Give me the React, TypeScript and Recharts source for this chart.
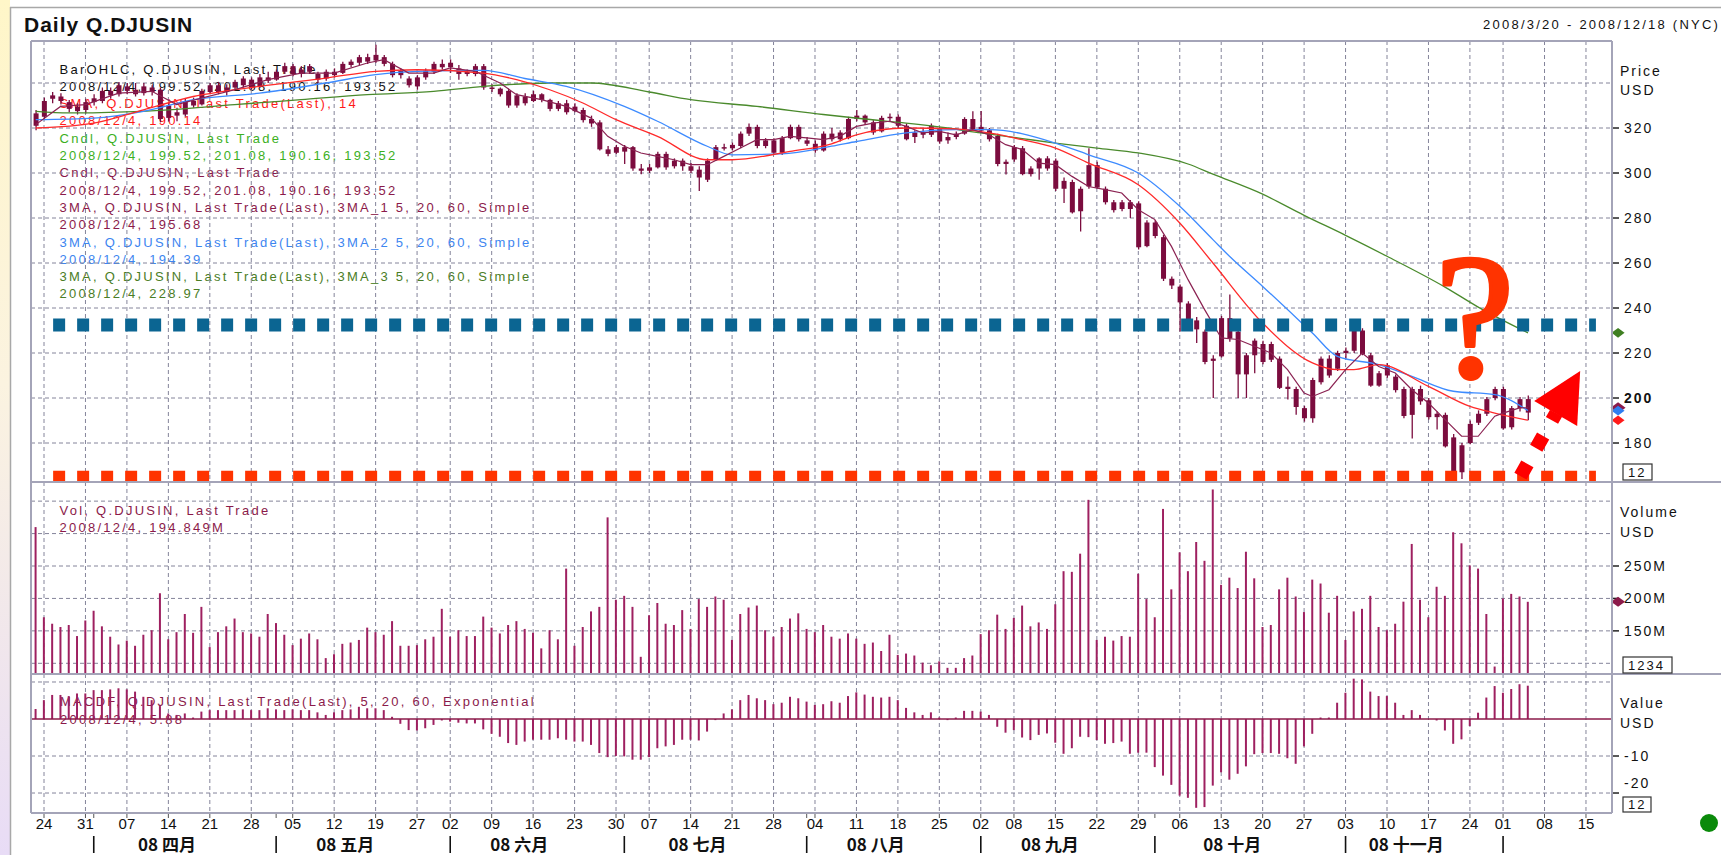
import React from 'react';
import {
  ComposedChart,
  Bar,
  Line,
  XAxis,
  YAxis,
  CartesianGrid,
  ReferenceLine,
  ReferenceDot,
} from 'recharts';

// trading days on the axis, 2008/3/20 - 2008/12/18
const tradingDays: [string, number[]][] = [
  ['03', [20, 24, 25, 26, 27, 28, 31]],
  ['04', [1, 2, 3, 4, 7, 8, 9, 10, 11, 14, 15, 16, 17, 18, 21, 22, 23, 24, 25, 28, 29, 30]],
  ['05', [1, 2, 5, 6, 7, 8, 9, 12, 13, 14, 15, 16, 19, 20, 21, 22, 23, 27, 28, 29, 30]],
  ['06', [2, 3, 4, 5, 6, 9, 10, 11, 12, 13, 16, 17, 18, 19, 20, 23, 24, 25, 26, 27, 30]],
  ['07', [1, 2, 3, 7, 8, 9, 10, 11, 14, 15, 16, 17, 18, 21, 22, 23, 24, 25, 28, 29, 30, 31]],
  ['08', [1, 4, 5, 6, 7, 8, 11, 12, 13, 14, 15, 18, 19, 20, 21, 22, 25, 26, 27, 28, 29]],
  ['09', [2, 3, 4, 5, 8, 9, 10, 11, 12, 15, 16, 17, 18, 19, 22, 23, 24, 25, 26, 29, 30]],
  ['10', [1, 2, 3, 6, 7, 8, 9, 10, 13, 14, 15, 16, 17, 20, 21, 22, 23, 24, 27, 28, 29, 30, 31]],
  ['11', [3, 4, 5, 6, 7, 10, 11, 12, 13, 14, 17, 18, 19, 20, 21, 24, 25, 26, 28]],
  ['12', [1, 2, 3, 4, 5, 8, 9, 10, 11, 12, 15, 16, 17, 18]],
];

const weekTicks = [
  '03/24', '03/31', '04/07', '04/14', '04/21', '04/28', '05/05', '05/12', '05/19', '05/27',
  '06/02', '06/09', '06/16', '06/23', '06/30', '07/07', '07/14', '07/21', '07/28', '08/04',
  '08/11', '08/18', '08/25', '09/02', '09/08', '09/15', '09/22', '09/29', '10/06', '10/13',
  '10/20', '10/27', '11/03', '11/10', '11/17', '11/24', '12/01', '12/08', '12/15',
];
const sepMonths = ['04', '05', '06', '07', '08', '09', '10', '11', '12'];
const monthLabels = ['08 四月', '08 五月', '08 六月', '08 七月', '08 八月', '08 九月', '08 十月', '08 十一月'];

// open, high, low, close
const ohlc = [
  [321, 328, 319, 326.5], [325, 333.5, 323.5, 332], [333, 336, 331, 334.5], [334, 335.5, 330.5, 332], [331.5, 332.5, 327, 328.5],
  [329.5, 331, 326, 327.5], [328, 333, 326.5, 331.5], [331.5, 335, 330, 333.2], [332, 338, 331, 336.5], [336.5, 338, 333, 334.5],
  [335, 340.5, 334, 339], [338.5, 340, 335, 336.5], [337, 340, 334, 335], [335.5, 340, 334.5, 338.5], [338, 339, 334.5, 336],
  [337, 338, 322.5, 324], [324.5, 331, 323, 330], [327, 329, 323, 325.5], [326, 333, 325, 332], [332, 333.5, 329, 330],
  [330.5, 337.5, 330, 336.5], [336, 340, 335, 339], [339, 340.5, 335, 336], [336, 339.5, 334.5, 338], [338, 341.5, 337, 340.5],
  [339, 343, 338, 342], [341.5, 342.5, 337, 338], [338.5, 344, 338, 342.5], [342.5, 345, 340, 341], [341.5, 346, 341, 345],
  [345, 349, 344, 347.5], [347.5, 348.5, 343, 344], [344, 347.5, 342.5, 346], [345, 348.5, 344, 347.5], [344, 345, 340, 341.5],
  [342, 346, 341, 345], [345, 346.5, 342.5, 343.5], [344.5, 349.5, 344, 348.5], [348, 350.5, 347, 349.5], [349, 352.5, 348, 351.5],
  [351.5, 353, 348.5, 349.5], [350, 357, 349, 352.5], [351.5, 352.5, 347.5, 348.5], [348.5, 349.5, 342.5, 343.5], [343.5, 346.5, 342, 345.5],
  [342, 343, 338, 339], [338.5, 343.5, 337, 342.5], [342.5, 346.5, 341.5, 345.5], [345, 349.5, 344, 348.5], [348.5, 350.5, 346, 347],
  [347, 350.5, 344.5, 349], [346.5, 348, 341.5, 344], [344, 346, 343, 345], [344, 348.5, 343, 347.5], [347.5, 348.5, 337, 338],
  [338, 339.5, 336, 337.5], [337.5, 338, 334, 335], [336.5, 337.5, 329, 330], [330, 335.5, 329, 334.5], [334, 335.5, 330, 331],
  [332, 336.5, 331.5, 335], [335, 335.5, 331.5, 332.5], [332.5, 333, 327.5, 328.5], [328.5, 332, 327.5, 331], [331, 332.5, 326, 327],
  [327.5, 331, 327, 329.5], [328, 329, 322.5, 323.5], [324, 325.5, 320.5, 322], [322.5, 323.5, 310, 310.5], [310.5, 312, 307.5, 308.5],
  [309, 312.5, 308.5, 311.5], [311.5, 312.5, 304, 309.5], [311.5, 312, 301, 302], [302, 304, 299.5, 301], [301, 304, 300, 302.5],
  [302.5, 309.5, 302, 308.5], [308.5, 309.5, 301.5, 302.5], [303, 306.5, 302, 305.5], [305.5, 306.5, 301, 303], [303, 304.5, 300, 301],
  [301.5, 303, 292, 298], [297, 306.5, 296, 305.5], [306, 312.5, 305.5, 311.5], [311.5, 313, 310, 311], [311, 313.5, 310, 312.5],
  [312, 318.5, 311, 317.5], [317.5, 322, 316.5, 320.5], [320.5, 321.5, 311, 312], [312, 315.5, 311, 314.5], [314.5, 315.5, 308.5, 309],
  [309, 316.5, 308, 315.5], [315.5, 321.5, 315, 320.5], [320.5, 321.5, 314, 315], [314.5, 316, 312, 313], [313, 314.5, 309, 310],
  [310, 318.5, 309.5, 317.5], [317.5, 320, 314, 315], [315, 319, 314, 318], [315.5, 325, 315, 324], [324, 328, 323, 325.5],
  [325.5, 326, 321.5, 322.5], [322.5, 323.5, 317, 318], [318.5, 325.5, 318, 324.5], [324.5, 326.5, 323, 325], [325, 326, 320, 321],
  [321, 322, 314.5, 315], [316, 319, 313.3, 318], [318, 320, 315.5, 317], [317, 322, 316, 321], [320, 320.5, 313, 314],
  [314.5, 318, 313, 316], [316, 318.5, 315, 317.5], [317.5, 324.8, 317, 324], [324, 327.4, 319, 319.5], [320.5, 327.6, 318, 318.8],
  [319, 320, 314, 315], [316.5, 317.5, 303, 304], [304, 306, 299.3, 305], [306, 312.5, 305, 311.5], [311, 312, 299, 299.5],
  [299.5, 303, 298.5, 302], [302, 307, 297, 306.5], [306.5, 307.5, 301, 302], [305.5, 306.5, 292, 293], [293, 298, 286.7, 296.5],
  [296, 297, 282, 282.5], [283, 294, 274, 293], [294, 311, 293, 303.5], [303.5, 305, 293, 293.5], [293, 294, 286, 287],
  [287, 288, 282.5, 283.5], [284, 288, 283, 287], [287, 288, 280, 284], [286.5, 287.5, 266, 267], [267.5, 279, 267, 278],
  [278, 279, 271, 272], [271.5, 272.5, 252, 253], [253, 254, 248.5, 250], [249.5, 250.5, 229.6, 242.5], [242, 243, 234, 235],
  [234.5, 236, 224.4, 230.5], [229.5, 230.5, 215, 216], [216.5, 219, 200, 217.5], [218.5, 236.5, 218, 235.5], [235.5, 246, 225, 226.5],
  [229.5, 231, 200, 210.5], [210.5, 220, 200, 219], [219, 226.5, 211, 225.5], [224, 225.5, 215, 216], [217, 225, 216, 224],
  [217.5, 218.5, 204, 204.5], [205, 209.6, 199.3, 204], [204, 205, 192.6, 196], [195.5, 196.5, 189.5, 191], [191, 209, 189, 208],
  [207, 218.5, 206, 217.5], [217.5, 219, 209, 210], [213, 221, 212, 220], [220, 222.5, 217.5, 221], [221, 231, 220, 230],
  [230, 231, 219, 219.5], [219, 220, 205, 205.5], [205.5, 212, 205, 211], [210, 215.5, 209, 214.5], [209.5, 210.5, 202.5, 203.5],
  [204, 205, 191, 192], [192.5, 205, 182, 204], [204, 205.5, 197, 198.5], [199, 200, 190.5, 191.5], [191.5, 194, 186, 193],
  [192.5, 193.5, 178, 178.5], [182.5, 184, 166.5, 167], [167, 180, 164, 179], [180, 190, 179.5, 188.5], [189, 194.5, 188, 193],
  [193, 200.5, 192, 199.5], [200, 205, 199, 204], [204, 205, 186, 186.5], [187, 196.5, 186, 195.5], [195.5, 200.5, 194, 199.5],
  [199.52, 201.08, 190.16, 193.52],
];

// volume, millions
const volume = [
  310, 171, 161, 156, 159, 142, 166, 181, 157, 141,
  129, 135, 127, 144, 151, 208, 137, 148, 176, 147,
  187, 125, 148, 157, 169, 148, 146, 141, 176, 162,
  144, 128, 138, 146, 137, 108, 114, 130, 132, 136,
  155, 148, 144, 165, 127, 127, 128, 137, 141, 184,
  141, 151, 142, 142, 172, 155, 146, 159, 165, 153,
  147, 123, 151, 137, 246, 127, 156, 180, 187, 325,
  198, 204, 187, 110, 174, 193, 161, 159, 182, 153,
  199, 187, 203, 198, 136, 176, 186, 189, 151, 141,
  156, 169, 177, 153, 148, 159, 141, 138, 146, 138,
  130, 132, 119, 144, 113, 115, 112, 101, 97, 103,
  93, 93, 108, 112, 145, 151, 175, 153, 170, 189,
  157, 163, 153, 191, 242, 241, 269, 352, 136, 141,
  135, 142, 141, 238, 199, 171, 338, 214, 271, 242,
  287, 258, 368, 221, 232, 216, 272, 231, 156, 159,
  214, 232, 203, 179, 229, 223, 178, 204, 136, 180,
  184, 204, 156, 151, 161, 195, 284, 198, 171, 218,
  204, 302, 285, 251, 246, 176, 95, 200, 207, 203,
  194.8,
];

const macd = [
  2.7, 5.1, 6.5, 6.5, 6.2, 6.9, 6.9, 7.8, 7.8, 8,
  8.3, 8, 7.4, 6, 5.1, 3.5, 1.5, 1.1, 1.5, 0.4,
  2, 2.4, 2.4, 2.4, 2.4, 2.6, 2.4, 2.4, 2.9, 2.6,
  2.4, 2.6, 2.4, 2.4, 1.8, 1.1, 1.8, 2.4, 2.6, 3.3,
  2.9, 2.9, 2.4, 0.6, -1.3, -3, -3.1, -2.5, -1.6, -0.4,
  -0.7, -1, -1.2, -1.2, -2.8, -4, -4.8, -6.5, -7, -6.1,
  -5.6, -5.6, -5.6, -5.2, -5.6, -6.1, -6.1, -7, -9.2, -10.3,
  -10, -10.1, -11, -11, -10.3, -7.9, -7.4, -7, -5.6, -5.6,
  -5.8, -3.4, -0.3, 1.5, 2.6, 5.1, 6.5, 5.6, 5.1, 4,
  4.4, 6, 5.6, 4.7, 3.8, 4, 4.8, 4.4, 6.2, 7.2,
  6.6, 6, 5.8, 6, 5.1, 3, 1.8, 1.1, 1.8, 0.4,
  -0.3, 0.4, 2.2, 2.2, 2, 1.1, -2.1, -3.7, -3, -5,
  -5.7, -4.3, -3.9, -6.4, -9.4, -7.9, -4.8, -4.9, -5.7, -6.7,
  -6.5, -6.1, -9.4, -9.1, -9.1, -13, -15.3, -17.8, -20.7, -21.3,
  -24, -23.8, -18, -14.4, -16.4, -14.8, -12.8, -9.5, -9.2, -9.2,
  -9.4, -10.6, -12.1, -7.4, -4, 0.4, 0.4, 4.4, 7.1, 10.9,
  10.7, 7.4, 6.2, 6.2, 4.4, 1.1, 2.4, 1.1, 0, -0.4,
  -3.1, -6.7, -5.5, -1.9, 1.7, 5.8, 8.9, 7.1, 8.1, 9.4,
  9,
];

// moving averages, [day index, value]
const ma5 = [
  [0, 321.5], [3, 329.6], [6, 330.4], [10, 335.5], [14, 336.3], [17, 330.4], [20, 333.3], [24, 337],
  [28, 341.5], [32, 344.4], [36, 344.4], [40, 348.9], [42, 350.4], [45, 344.4], [48, 344.4], [50, 346.7],
  [53, 345.2], [56, 340], [58, 334.8], [61, 332.6], [64, 329.6], [67, 324.4], [69, 316.3], [71, 311.9],
  [73, 308.9], [75, 307.4], [77, 305.9], [79, 303.7], [81, 303.7], [83, 307.4], [85, 311.1], [87, 314.8],
  [89, 314.8], [91, 316.3], [93, 315.6], [95, 314.8], [97, 316.3], [99, 320.7], [101, 322.2], [103, 323],
  [105, 320.7], [107, 317.8], [109, 318.5], [111, 317], [113, 319.3], [115, 317], [117, 312.6], [119, 310.4],
  [121, 304.4], [123, 303.7], [125, 298.5], [127, 294], [129, 292.6], [131, 291.1], [133, 283.7], [135, 279.3],
  [137, 267.4], [139, 252.6], [141, 239.3], [143, 226.7], [145, 226], [147, 223], [149, 220], [151, 212.6],
  [153, 202.2], [154, 200.7], [156, 203.7], [158, 212.6], [160, 220], [162, 214], [164, 211.1], [166, 203.7],
  [168, 197.8], [170, 190.4], [172, 183], [174, 183], [176, 191.9], [177, 193.3], [179, 195.6], [180, 195.68],
];
const ma14 = [
  [0, 320], [7, 322.2], [13, 328.1], [19, 334], [27, 338.5], [35, 342.2], [41, 345.2], [46, 345.9],
  [54, 344.4], [58, 341.5], [62, 337], [66, 331.1], [70, 323.7], [75, 316.3], [81, 305.9], [84, 305.9],
  [91, 309.6], [96, 313], [99, 317], [105, 320], [111, 319.6], [115, 317.8], [119, 314.8], [123, 311.1],
  [127, 304.4], [133, 294.8], [138, 277.8], [142, 260], [148, 233.3], [154, 215.6], [157, 212.6], [159, 212.6],
  [162, 214.8], [168, 205.2], [173, 196.3], [176, 193.3], [180, 190.14],
];
const ma20 = [
  [0, 323.7], [7, 324.4], [13, 327.4], [19, 332.6], [27, 335.5], [35, 340], [41, 343.7], [46, 345.2],
  [54, 345.6], [59, 342], [64, 338.5], [71, 329.6], [75, 323], [81, 311.9], [84, 308.1], [90, 308.5],
  [96, 311.9], [99, 314], [105, 317.8], [111, 319.3], [115, 319.3], [123, 313.3], [127, 308.1], [133, 300],
  [138, 285.2], [142, 270.4], [144, 263], [148, 249.6], [154, 228.9], [157, 218.5], [162, 214.8], [166, 209.6],
  [171, 203], [176, 201.5], [180, 194.39],
];
const ma60 = [
  [0, 327.4], [4, 326.7], [16, 328.1], [24, 330.4], [32, 332.6], [40, 334.8], [48, 336.3], [54, 338.5],
  [62, 340], [67, 340], [74, 336], [79, 332.6], [87, 329.6], [95, 326], [100, 324], [105, 322.2],
  [110, 320], [114, 317.8], [119, 315.3], [123, 313.3], [128, 311.1], [133, 308.9], [139, 304], [142, 299.5],
  [148, 290.6], [153, 281.2], [158, 272.3], [163, 263], [170, 249.3], [174, 240.4], [180, 228.97],
];

const priceTicks = [180, 200, 220, 240, 260, 280, 300, 320];
const priceGrid = [180, 200, 220, 240, 260, 280, 300, 320, 340];
const volTicks = [150, 200, 250];
const volGrid = [100, 150, 200, 250, 300, 350];
const macdTicks = [-20, -10];
const macdGrid = [10, -10, -20];

// hand-drawn marks on the picture (price units / day index)
const blueLevel = 232.4;
const redLevel = 165;
const levelFrom = 2.1;
const levelTo = 188.2;
const arrowShaft = [{ x: 179.1, y: 165.3 }, { x: 183.4, y: 193.3 }];
const arrowTip = { x: 186.3, y: 212 };
const question = { x: 173.6, y: 236.4 };
const markerX = 190.87;

const legendLines: [string, string][] = [
  ['BarOHLC, Q.DJUSIN, Last Trade', '#111'],
  ['2008/12/4, 199.52, 201.08, 190.16, 193.52', '#111'],
  ['SMA, Q.DJUSIN, Last Trade(Last), 14', '#ff1a1a'],
  ['2008/12/4, 190.14', '#ff1a1a'],
  ['Cndl, Q.DJUSIN, Last Trade', '#3cb01e'],
  ['2008/12/4, 199.52, 201.08, 190.16, 193.52', '#3cb01e'],
  ['Cndl, Q.DJUSIN, Last Trade', '#8b1a4a'],
  ['2008/12/4, 199.52, 201.08, 190.16, 193.52', '#8b1a4a'],
  ['3MA, Q.DJUSIN, Last Trade(Last), 3MA_1 5, 20, 60, Simple', '#8b1a4a'],
  ['2008/12/4, 195.68', '#8b1a4a'],
  ['3MA, Q.DJUSIN, Last Trade(Last), 3MA_2 5, 20, 60, Simple', '#3d85f0'],
  ['2008/12/4, 194.39', '#3d85f0'],
  ['3MA, Q.DJUSIN, Last Trade(Last), 3MA_3 5, 20, 60, Simple', '#4a7d25'],
  ['2008/12/4, 228.97', '#4a7d25'],
];

const W = 1721;
const H = 855;
const FONT = "'Liberation Sans', Arial, sans-serif";
const CANDLE = '#7b0c3e';
const STICK = '#9e2060';
const MAROON = '#8b1a4a';
const GRID = '#84849a';
const BORDER = '#a4a4b8';
const X_DOMAIN: [number, number] = [-0.57, 190.14];
const PRICE_DOMAIN: [number, number] = [162.67, 358.67];
const VOL_DOMAIN: [number, number] = [83.5, 379.5];
const MACD_DOMAIN: [number, number] = [-25.4, 12.16];

const dates = tradingDays.flatMap(([m, ds]) => ds.map((d) => `${m}/${String(d).padStart(2, '0')}`));
const candles = ohlc.map(([o, h, l, c], i) => ({ i, o, h, l, c }));
const volData = volume.map((v, i) => ({ i, v }));
const macdData = macd.map((v, i) => ({ i, v }));
const pts = (a: number[][]) => a.map(([i, v]) => ({ i, v }));

const weekIdx = weekTicks.map((d) => dates.indexOf(d));
const sepIdx = sepMonths.map((m) => dates.findIndex((d) => d.startsWith(m + '/')));
const labelPos = monthLabels.map((_, k) => (sepIdx[k] + sepIdx[k + 1]) / 2);
const weekLabel = new Map(weekIdx.map((v, k) => [v, weekTicks[k].slice(3)]));
const monthLabel = new Map(labelPos.map((v, k) => [v, monthLabels[k]]));
const sepSet = new Set(sepIdx);
const xTicks = Array.from(new Set([...weekIdx, ...sepIdx, ...labelPos])).sort((a, b) => a - b);

const Candle = (p: any) => {
  const { x, y, width, height, payload } = p;
  const top = Math.min(y, y + height);
  const span = Math.abs(height);
  const { o, h, l, c } = payload;
  const k = span / (h - l);
  const bTop = top + (h - Math.max(o, c)) * k;
  const bH = Math.max(1.5, Math.abs(o - c) * k);
  const cx = x + width / 2;
  return (
    <g>
      <line x1={cx} x2={cx} y1={top} y2={top + span} stroke={CANDLE} strokeWidth={1.3} />
      <rect x={x} y={bTop} width={width} height={bH} fill={CANDLE} />
    </g>
  );
};

const Diamond = (fill: string, stroke = 'none', w = 6.5, h = 4.8) => (p: any) => (
  <polygon
    points={`${p.cx - w},${p.cy} ${p.cx},${p.cy - h} ${p.cx + w},${p.cy} ${p.cx},${p.cy + h}`}
    fill={fill}
    stroke={stroke}
    strokeWidth={1.5}
  />
);

const axisText = { fontSize: 14, letterSpacing: 2, fill: '#111' };

const PriceTick = ({ x, y, payload }: any) => (
  <text x={x} y={y + 5} {...axisText} fontWeight={payload.value === 200 ? 700 : 400}>
    {payload.value}
  </text>
);
const VolTick = ({ x, y, payload }: any) => (
  <text x={x} y={y + 5} {...axisText}>{`${payload.value}M`}</text>
);
const MacdTick = ({ x, y, payload }: any) => (
  <text x={x} y={y + (payload.value === -20 ? -5 : 5)} {...axisText}>
    {payload.value}
  </text>
);

const XTick = ({ x, y, payload }: any) => {
  const v = payload.value;
  const wk = weekLabel.get(v);
  const ml = monthLabel.get(v);
  const sep = sepSet.has(v);
  return (
    <g>
      {(wk || sep) && <line x1={x} x2={x} y1={y} y2={y + 5} stroke="#555" />}
      {wk && (
        <text x={x} y={y + 16} textAnchor="middle" fontSize={15} fill="#111">
          {wk}
        </text>
      )}
      {sep && <line x1={x} x2={x} y1={y + 23} y2={y + 40} stroke="#111" strokeWidth={1.6} />}
      {ml && (
        <text
          x={x - 18}
          y={y + 38}
          textAnchor="middle"
          fontSize={17}
          fontWeight={700}
          fontFamily="'Noto Sans CJK SC', sans-serif"
          fill="#111"
        >
          {ml}
        </text>
      )}
    </g>
  );
};

function PriceChart() {
  return (
    <ComposedChart width={W} height={490} data={candles} margin={{ top: 41, right: 9, bottom: 8, left: 31 }}>
      <CartesianGrid
        stroke={GRID}
        strokeDasharray="4 3"
        verticalValues={weekIdx}
        horizontalValues={priceGrid}
      />
      <XAxis dataKey="i" type="number" domain={X_DOMAIN} allowDataOverflow hide />
      <YAxis
        orientation="right"
        domain={PRICE_DOMAIN}
        allowDataOverflow
        ticks={priceTicks}
        interval={0}
        width={100}
        axisLine={false}
        tickSize={7}
        tickMargin={5}
        tickLine={{ stroke: '#222', strokeWidth: 1.5 }}
        tick={<PriceTick />}
      />
      <Bar dataKey={(d: any) => [d.l, d.h]} shape={<Candle />} barSize={5} isAnimationActive={false} />
      <Line data={pts(ma60)} dataKey="v" type="monotone" stroke="#4a8a2c" strokeWidth={1.3} dot={false} isAnimationActive={false} />
      <Line data={pts(ma20)} dataKey="v" type="monotone" stroke="#3d8bff" strokeWidth={1.3} dot={false} isAnimationActive={false} />
      <Line data={pts(ma14)} dataKey="v" type="monotone" stroke="#ff2a2a" strokeWidth={1.3} dot={false} isAnimationActive={false} />
      <Line data={pts(ma5)} dataKey="v" type="linear" stroke="#8b2252" strokeWidth={1.2} dot={false} isAnimationActive={false} />
    </ComposedChart>
  );
}

function MarksChart() {
  const last = (a: number[][]) => a[a.length - 1][1];
  return (
    <ComposedChart width={W} height={490} data={candles} margin={{ top: 41, right: 109, bottom: 8, left: 31 }}>
      <XAxis dataKey="i" type="number" domain={X_DOMAIN} allowDataOverflow hide />
      <YAxis domain={PRICE_DOMAIN} allowDataOverflow hide />
      <ReferenceLine
        segment={[{ x: levelFrom, y: blueLevel }, { x: levelTo, y: blueLevel }]}
        stroke="#0b6592"
        strokeWidth={13}
        strokeDasharray="12 12"
      />
      <ReferenceLine
        segment={[{ x: levelFrom, y: redLevel }, { x: levelTo, y: redLevel }]}
        stroke="#ff3300"
        strokeWidth={12}
        strokeDasharray="12 12"
      />
      <ReferenceLine segment={arrowShaft} stroke="#ff0000" strokeWidth={14} strokeDasharray="14 18" />
      <ReferenceDot
        x={arrowTip.x}
        y={arrowTip.y}
        r={1}
        shape={(p: any) => (
          <polygon
            points={`${p.cx},${p.cy} ${p.cx - 46},${p.cy + 30} ${p.cx - 3},${p.cy + 55}`}
            fill="#ff0000"
          />
        )}
      />
      <ReferenceDot
        x={question.x}
        y={question.y}
        r={1}
        shape={(p: any) => (
          <text
            x={p.cx}
            y={p.cy + 60}
            textAnchor="middle"
            fontSize={178}
            fontWeight={400}
            fontFamily="'Liberation Serif', serif"
            fill="#ff3300"
            stroke="#ff3300"
            strokeWidth={4}
            strokeLinejoin="round"
          >
            ?
          </text>
        )}
      />
      <ReferenceDot x={markerX} y={last(ma60)} r={1} ifOverflow="visible" shape={Diamond('#3f7f22')} />
      <ReferenceDot x={markerX} y={last(ma5)} r={1} ifOverflow="visible" shape={Diamond('#8b1a4a', 'none', 7.5, 5.5)} />
      <ReferenceDot x={markerX} y={last(ma20)} r={1} ifOverflow="visible" shape={Diamond('#2f7df0')} />
      <ReferenceDot x={markerX} y={last(ma14)} r={1} ifOverflow="visible" shape={Diamond('#ff1a1a')} />
    </ComposedChart>
  );
}

function VolumeChart() {
  return (
    <ComposedChart width={W} height={214} data={volData} margin={{ top: 12, right: 9, bottom: 10, left: 31 }}>
      <CartesianGrid stroke={GRID} strokeDasharray="4 3" verticalValues={weekIdx} horizontalValues={volGrid} />
      <XAxis dataKey="i" type="number" domain={X_DOMAIN} allowDataOverflow hide />
      <YAxis
        orientation="right"
        domain={VOL_DOMAIN}
        allowDataOverflow
        ticks={volTicks}
        interval={0}
        width={100}
        axisLine={false}
        tickSize={7}
        tickMargin={5}
        tickLine={{ stroke: '#222', strokeWidth: 1.5 }}
        tick={<VolTick />}
      />
      <Bar dataKey={(d: any) => [VOL_DOMAIN[0], d.v]} fill={STICK} barSize={2} isAnimationActive={false} />
      <ReferenceDot
        x={markerX}
        y={volume[volume.length - 1]}
        r={1}
        ifOverflow="visible"
        shape={Diamond(MAROON, 'none', 7, 5)}
      />
    </ComposedChart>
  );
}

function MacdChart() {
  return (
    <ComposedChart width={W} height={255} data={macdData} margin={{ top: 74, right: 9, bottom: 0, left: 31 }}>
      <CartesianGrid stroke={GRID} strokeDasharray="4 3" verticalValues={weekIdx} horizontalValues={macdGrid} />
      <XAxis
        dataKey="i"
        type="number"
        domain={X_DOMAIN}
        allowDataOverflow
        ticks={xTicks}
        interval={0}
        height={42}
        axisLine={false}
        tickLine={false}
        tickSize={0}
        tickMargin={0}
        tick={<XTick />}
      />
      <YAxis
        orientation="right"
        domain={MACD_DOMAIN}
        allowDataOverflow
        ticks={macdTicks}
        interval={0}
        width={100}
        axisLine={false}
        tickSize={7}
        tickMargin={5}
        tickLine={{ stroke: '#222', strokeWidth: 1.5 }}
        tick={<MacdTick />}
      />
      <ReferenceLine y={0} stroke={MAROON} strokeWidth={1.6} />
      <Bar dataKey="v" fill={STICK} barSize={2} isAnimationActive={false} />
    </ComposedChart>
  );
}

const txt = { fontSize: 13, letterSpacing: 2.25 };

// legend sits under the candles, as in the picture
function Legend() {
  return (
    <svg width={W} height={H} style={{ position: 'absolute', left: 0, top: 0, pointerEvents: 'none' }}>
      {legendLines.map(([s, c], k) => (
        <text key={k} x={59.5} y={73.5 + 17.3 * k} {...txt} fill={c}>
          {s}
        </text>
      ))}
      <text x={59.5} y={514.5} {...txt} fill={MAROON}>Vol, Q.DJUSIN, Last Trade</text>
      <text x={59.5} y={531.5} {...txt} fill={MAROON}>2008/12/4, 194.849M</text>
      <text x={60} y={705.5} {...txt} fill={MAROON}>MACDF, Q.DJUSIN, Last Trade(Last), 5, 20, 60, Exponential</text>
      <text x={60} y={723.5} {...txt} fill={MAROON}>2008/12/4, 5.88</text>
    </svg>
  );
}

function Overlay() {
  const box = (x: number, y: number, w: number, h: number, label: string) => (
    <g>
      <rect x={x} y={y} width={w} height={h} fill="#fff" stroke="#333" strokeWidth={1.2} />
      <text x={x + 5} y={y + h - 3} fontSize={13} letterSpacing={2} fill="#111">
        {label}
      </text>
    </g>
  );
  return (
    <svg width={W} height={H} style={{ position: 'absolute', left: 0, top: 0, pointerEvents: 'none' }}>
      <defs>
        <linearGradient id="strip" x1="0" y1="0" x2="0" y2="1">
          <stop offset="0" stopColor="#fff6c8" />
          <stop offset="0.45" stopColor="#fbf3e0" />
          <stop offset="1" stopColor="#e8dcf6" />
        </linearGradient>
      </defs>
      <rect x={0} y={0} width={10} height={H} fill="url(#strip)" />
      <line x1={10.5} x2={10.5} y1={7} y2={H} stroke="#a8a8a8" strokeWidth={1.5} />
      <line x1={10} x2={W} y1={7.5} y2={7.5} stroke="#a8a8a8" strokeWidth={1.5} />

      <text x={24} y={31.5} fontSize={21} fontWeight={700} letterSpacing={1} fill="#111">
        Daily Q.DJUSIN
      </text>
      <text x={1483} y={29} {...txt} fill="#111">
        2008/3/20 - 2008/12/18 (NYC)
      </text>

      <line x1={31} x2={1612} y1={41} y2={41} stroke={BORDER} strokeWidth={2} />
      <line x1={31} x2={31} y1={41} y2={813} stroke={BORDER} strokeWidth={2} />
      <line x1={1612} x2={1612} y1={41} y2={813} stroke={BORDER} strokeWidth={2} />
      <line x1={31} x2={W} y1={482} y2={482} stroke={BORDER} strokeWidth={2} />
      <line x1={31} x2={W} y1={674} y2={674} stroke={BORDER} strokeWidth={2} />
      <line x1={31} x2={1612} y1={813} y2={813} stroke={BORDER} strokeWidth={2} />

      <text x={1620} y={75.7} {...axisText}>Price</text>
      <text x={1620} y={95} {...axisText}>USD</text>
      <text x={1620} y={517} {...axisText}>Volume</text>
      <text x={1620} y={537} {...axisText}>USD</text>
      <text x={1620} y={708} {...axisText}>Value</text>
      <text x={1620} y={728} {...axisText}>USD</text>
      {box(1623, 464, 29, 16, '12')}
      {box(1623, 657, 49, 16, '1234')}
      {box(1623, 797, 28, 15, '12')}

      <circle cx={1709} cy={823} r={9} fill="#0a8a0a" />
    </svg>
  );
}

export default function App() {
  return (
    <div
      style={{
        position: 'absolute',
        left: 0,
        top: 0,
        width: W,
        height: H,
        overflow: 'hidden',
        background: '#fff',
        fontFamily: FONT,
      }}
    >
      <Legend />
      <div style={{ position: 'absolute', left: 0, top: 0 }}>
        <PriceChart />
      </div>
      <div style={{ position: 'absolute', left: 0, top: 470 }}>
        <VolumeChart />
      </div>
      <div style={{ position: 'absolute', left: 0, top: 600 }}>
        <MacdChart />
      </div>
      <div style={{ position: 'absolute', left: 0, top: 0 }}>
        <MarksChart />
      </div>
      <Overlay />
    </div>
  );
}
